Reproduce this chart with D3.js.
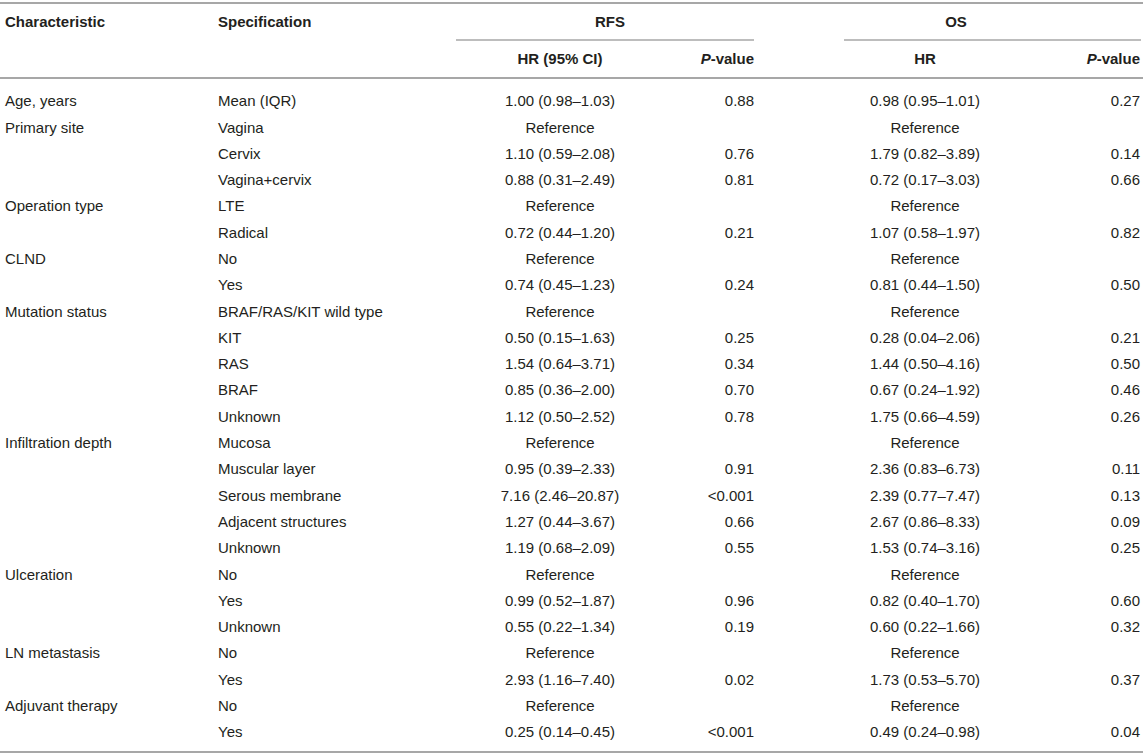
<!DOCTYPE html>
<html>
<head>
<meta charset="utf-8">
<script src="https://cdn.jsdelivr.net/npm/d3@7"></script>
<style>
  html, body { margin: 0; padding: 0; background: #fff; }
  text { font-family: "Liberation Sans", Arial, Helvetica, sans-serif; fill: #231f20; }
  .head { font-weight: bold; }
  .rule { stroke: #a7a7a7; }
</style>
</head>
<body>
<div class="table-js"></div>
<script>
'use strict';

// Table content, one array per column
var characteristics = [
  'Age, years', 'Primary site', '', '', 'Operation type', '', 'CLND', '',
  'Mutation status', '', '', '', '', 'Infiltration depth', '', '', '', '',
  'Ulceration', '', '', 'LN metastasis', '', 'Adjuvant therapy', ''
];
var specifications = [
  'Mean (IQR)', 'Vagina', 'Cervix', 'Vagina+cervix', 'LTE', 'Radical', 'No', 'Yes',
  'BRAF/RAS/KIT wild type', 'KIT', 'RAS', 'BRAF', 'Unknown', 'Mucosa', 'Muscular layer',
  'Serous membrane', 'Adjacent structures', 'Unknown', 'No', 'Yes', 'Unknown',
  'No', 'Yes', 'No', 'Yes'
];
var rfsHR = [
  '1.00 (0.98–1.03)', 'Reference', '1.10 (0.59–2.08)', '0.88 (0.31–2.49)', 'Reference',
  '0.72 (0.44–1.20)', 'Reference', '0.74 (0.45–1.23)', 'Reference', '0.50 (0.15–1.63)',
  '1.54 (0.64–3.71)', '0.85 (0.36–2.00)', '1.12 (0.50–2.52)', 'Reference',
  '0.95 (0.39–2.33)', '7.16 (2.46–20.87)', '1.27 (0.44–3.67)', '1.19 (0.68–2.09)',
  'Reference', '0.99 (0.52–1.87)', '0.55 (0.22–1.34)', 'Reference', '2.93 (1.16–7.40)',
  'Reference', '0.25 (0.14–0.45)'
];
var rfsP = [
  '0.88', '', '0.76', '0.81', '', '0.21', '', '0.24', '', '0.25', '0.34', '0.70', '0.78',
  '', '0.91', '<0.001', '0.66', '0.55', '', '0.96', '0.19', '', '0.02', '', '<0.001'
];
var osHR = [
  '0.98 (0.95–1.01)', 'Reference', '1.79 (0.82–3.89)', '0.72 (0.17–3.03)', 'Reference',
  '1.07 (0.58–1.97)', 'Reference', '0.81 (0.44–1.50)', 'Reference', '0.28 (0.04–2.06)',
  '1.44 (0.50–4.16)', '0.67 (0.24–1.92)', '1.75 (0.66–4.59)', 'Reference',
  '2.36 (0.83–6.73)', '2.39 (0.77–7.47)', '2.67 (0.86–8.33)', '1.53 (0.74–3.16)',
  'Reference', '0.82 (0.40–1.70)', '0.60 (0.22–1.66)', 'Reference', '1.73 (0.53–5.70)',
  'Reference', '0.49 (0.24–0.98)'
];
var osP = [
  '0.27', '', '0.14', '0.66', '', '0.82', '', '0.50', '', '0.21', '0.50', '0.46', '0.26',
  '', '0.11', '0.13', '0.09', '0.25', '', '0.60', '0.32', '', '0.37', '', '0.04'
];

// Header labels
var groupLabels = ['RFS', 'OS'];
var subLabels = [['HR (95% CI)', 'P-value'], ['HR', 'P-value']];

var App = (function() {
function run() {

  var owidth = 1143;
  var oheight = 756;
  var fs = 15;

  // column anchors: x position and text-anchor
  var cols = [
    {key: 'c',  x: 5,    anchor: 'start'},
    {key: 's',  x: 218,  anchor: 'start'},
    {key: 'rh', x: 560,  anchor: 'middle'},
    {key: 'rp', x: 754,  anchor: 'end'},
    {key: 'oh', x: 925,  anchor: 'middle'},
    {key: 'op', x: 1140, anchor: 'end'}
  ];
  var groupSpans = [[456, 754], [844, 1141]];
  var groupCenters = [610, 956];

  var rows = specifications.map(function(s, i) {
    return {c: characteristics[i], s: s, rh: rfsHR[i], rp: rfsP[i], oh: osHR[i], op: osP[i]};
  });

  // row scale for body lines
  var yRow = d3.scaleLinear()
    .domain([0, rows.length - 1])
    .range([101, 732]);

  var svg = d3.select('.table-js').append('svg')
    .attr('width', owidth)
    .attr('height', oheight);

  // Rules
  function rule(x1, x2, y, w) {
    svg.append('line')
      .attr('class', 'rule')
      .attr('x1', x1).attr('x2', x2)
      .attr('y1', y).attr('y2', y)
      .attr('stroke-width', w);
  }
  rule(0, owidth, 3, 2);
  groupSpans.forEach(function(sp) { rule(sp[0], sp[1], 40, 1.5); });
  rule(0, owidth, 78, 2);
  rule(0, owidth, 752, 2);

  // Header row 1
  svg.append('text').attr('class', 'head')
    .attr('x', cols[0].x).attr('y', 22).attr('dy', '0.35em')
    .attr('font-size', fs).text('Characteristic');
  svg.append('text').attr('class', 'head')
    .attr('x', cols[1].x).attr('y', 22).attr('dy', '0.35em')
    .attr('font-size', fs).text('Specification');
  svg.selectAll('text.group')
    .data(groupLabels)
    .enter().append('text')
    .attr('class', 'head group')
    .attr('x', function(d, i) { return groupCenters[i]; })
    .attr('y', 22).attr('dy', '0.35em')
    .attr('text-anchor', 'middle')
    .attr('font-size', fs)
    .text(function(d) { return d; });

  // Header row 2
  subLabels.forEach(function(pair, g) {
    var hc = cols[2 + g * 2], pc = cols[3 + g * 2];
    svg.append('text').attr('class', 'head')
      .attr('x', hc.x).attr('y', 59).attr('dy', '0.35em')
      .attr('text-anchor', hc.anchor).attr('font-size', fs)
      .text(pair[0]);
    var pt = svg.append('text').attr('class', 'head')
      .attr('x', pc.x).attr('y', 59).attr('dy', '0.35em')
      .attr('text-anchor', pc.anchor).attr('font-size', fs);
    pt.append('tspan').attr('font-style', 'italic').text('P');
    pt.append('tspan').text(pair[1].slice(1));
  });

  // Body
  var rowG = svg.selectAll('g.row')
    .data(rows)
    .enter().append('g')
    .attr('class', 'row')
    .attr('transform', function(d, i) { return 'translate(0,' + yRow(i) + ')'; });

  cols.forEach(function(col) {
    rowG.append('text')
      .attr('x', col.x)
      .attr('dy', '0.35em')
      .attr('text-anchor', col.anchor)
      .attr('font-size', fs)
      .text(function(d) { return d[col.key]; });
  });
}

return { run : run }
}());
document.addEventListener('DOMContentLoaded', App.run);
</script>
</body>
</html>
